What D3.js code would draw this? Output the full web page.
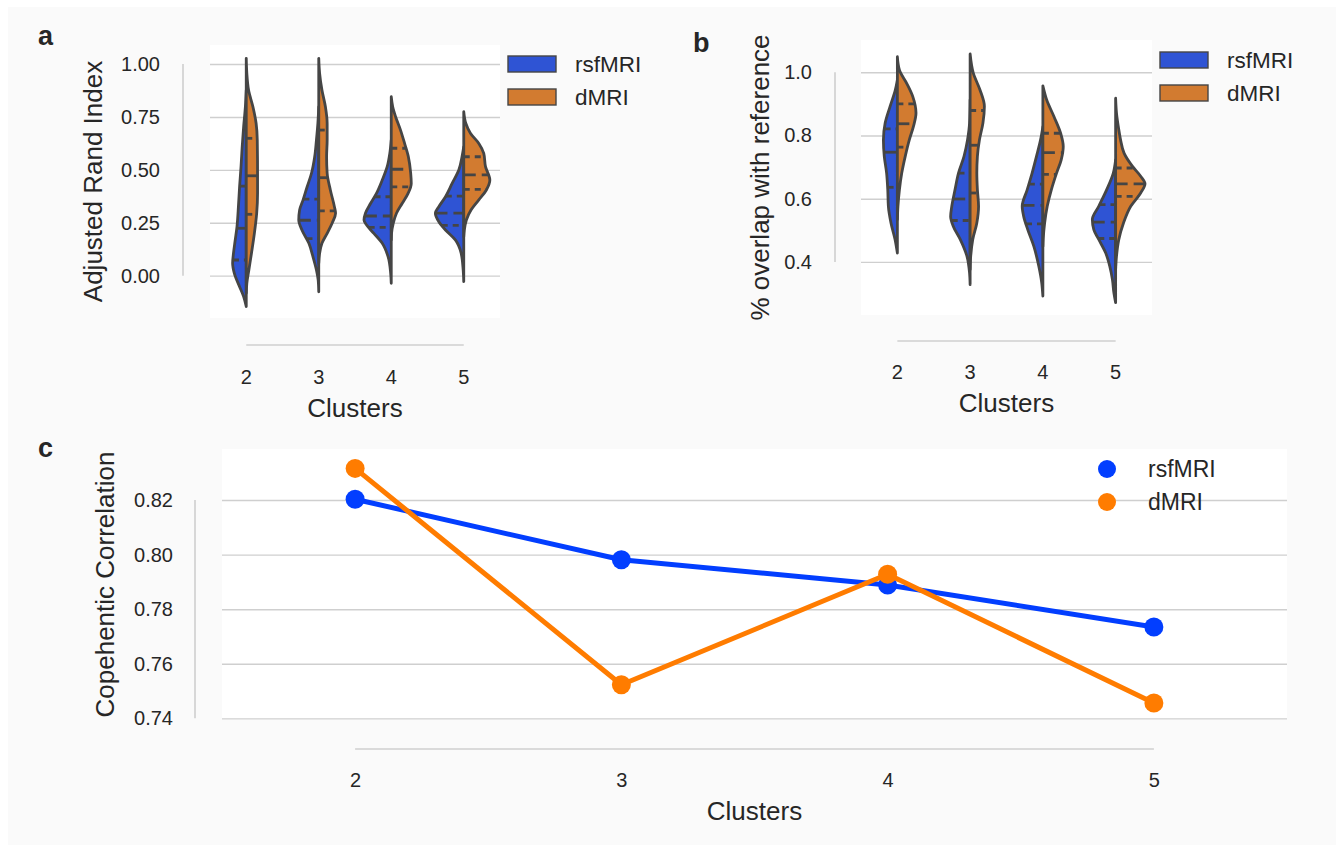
<!DOCTYPE html>
<html>
<head>
<meta charset="utf-8">
<script src="https://cdn.jsdelivr.net/npm/d3@7"></script>
<style>
  html, body { margin: 0; padding: 0; background: #ffffff; }
  svg { display: block; }
  text { font-family: "Liberation Sans", Arial, Helvetica, sans-serif; fill: #262626; }
</style>
</head>
<body>
<svg id="chart" width="1343" height="851"></svg>
<script>
// ---------------- DATA ----------------
const clusters = ["2", "3", "4", "5"];
const seriesNames = ["rsfMRI", "dMRI"];

// Panel a: Adjusted Rand Index — estimated density profiles [value, relative density]
const ariRsfDensity = [
  [[-0.146,0],[-0.099,0.09],[-0.052,0.23],[0.011,0.41],[0.059,0.47],[0.106,0.44],[0.169,0.38],[0.231,0.32],[0.326,0.27],[0.420,0.23],[0.515,0.18],[0.609,0.14],[0.704,0.09],[0.798,0.03],[0.877,0]],
  [[-0.076,0],[-0.020,0.02],[0.027,0.08],[0.090,0.20],[0.153,0.34],[0.216,0.58],[0.263,0.69],[0.310,0.66],[0.358,0.54],[0.420,0.40],[0.484,0.25],[0.562,0.14],[0.641,0.08],[0.720,0.03],[0.798,0]],
  [[-0.036,0],[0.011,0.02],[0.090,0.11],[0.153,0.31],[0.200,0.60],[0.239,0.85],[0.263,0.94],[0.295,0.89],[0.342,0.71],[0.389,0.51],[0.452,0.31],[0.515,0.14],[0.578,0.05],[0.641,0]],
  [[-0.028,0],[0.027,0.02],[0.106,0.09],[0.169,0.29],[0.216,0.63],[0.255,0.86],[0.295,0.98],[0.326,0.86],[0.373,0.63],[0.436,0.40],[0.499,0.17],[0.562,0.06],[0.609,0]]
];
const ariDmriDensity = [
  [[-0.083,0],[-0.036,0.02],[0.027,0.09],[0.106,0.18],[0.200,0.28],[0.295,0.36],[0.389,0.39],[0.484,0.39],[0.641,0.38],[0.720,0.34],[0.798,0.23],[0.877,0.08],[0.956,0.02],[1.027,0]],
  [[0.059,0],[0.106,0.03],[0.153,0.11],[0.200,0.29],[0.248,0.46],[0.295,0.58],[0.326,0.54],[0.405,0.40],[0.484,0.29],[0.562,0.27],[0.641,0.29],[0.720,0.29],[0.798,0.23],[0.877,0.11],[0.956,0.03],[1.027,0]],
  [[0.169,0],[0.200,0.01],[0.248,0.07],[0.295,0.18],[0.342,0.38],[0.389,0.58],[0.436,0.69],[0.484,0.67],[0.562,0.59],[0.625,0.46],[0.688,0.32],[0.751,0.15],[0.798,0.05],[0.846,0]],
  [[0.184,0],[0.216,0.02],[0.263,0.09],[0.310,0.25],[0.358,0.52],[0.405,0.78],[0.452,0.90],[0.515,0.75],[0.578,0.69],[0.625,0.52],[0.673,0.23],[0.720,0.07],[0.775,0]]
];
// [q1, median, q3]
const ariRsfQuartiles  = [[0.074,0.224,0.423],[0.175,0.262,0.362],[0.228,0.282,0.373],[0.238,0.296,0.376]];
const ariDmriQuartiles = [[0.290,0.472,0.649],[0.306,0.463,0.688],[0.420,0.503,0.602],[0.408,0.476,0.562]];

// Panel b: % overlap with reference
const overlapRsfDensity = [
  [[0.428,0],[0.471,0.08],[0.523,0.22],[0.576,0.31],[0.628,0.33],[0.681,0.37],[0.734,0.45],[0.786,0.48],[0.839,0.42],[0.892,0.25],[0.944,0.07],[0.976,0]],
  [[0.328,0],[0.365,0.02],[0.418,0.11],[0.471,0.34],[0.513,0.58],[0.544,0.67],[0.576,0.63],[0.628,0.52],[0.681,0.40],[0.734,0.21],[0.786,0.09],[0.839,0.02],[0.913,0]],
  [[0.292,0],[0.334,0.04],[0.386,0.14],[0.449,0.31],[0.502,0.52],[0.544,0.66],[0.576,0.71],[0.628,0.54],[0.681,0.37],[0.734,0.22],[0.786,0.08],[0.828,0]],
  [[0.271,0],[0.302,0.06],[0.344,0.11],[0.386,0.20],[0.428,0.34],[0.471,0.58],[0.502,0.75],[0.534,0.80],[0.576,0.58],[0.628,0.31],[0.681,0.08],[0.723,0]]
];
const overlapDmriDensity = [
  [[0.534,0],[0.576,0.02],[0.628,0.07],[0.681,0.15],[0.734,0.27],[0.786,0.41],[0.828,0.55],[0.871,0.64],[0.923,0.53],[0.965,0.32],[1.007,0.07],[1.049,0]],
  [[0.376,0],[0.418,0.02],[0.471,0.09],[0.523,0.23],[0.576,0.29],[0.628,0.25],[0.681,0.23],[0.734,0.25],[0.786,0.32],[0.839,0.44],[0.892,0.49],[0.944,0.34],[0.997,0.11],[1.058,0]],
  [[0.449,0],[0.471,0.01],[0.523,0.06],[0.576,0.15],[0.628,0.29],[0.681,0.47],[0.723,0.63],[0.765,0.70],[0.807,0.61],[0.860,0.38],[0.913,0.13],[0.957,0]],
  [[0.376,0],[0.418,0.03],[0.471,0.11],[0.523,0.27],[0.576,0.52],[0.618,0.86],[0.647,1.01],[0.671,0.86],[0.702,0.58],[0.744,0.29],[0.786,0.17],[0.818,0.11],[0.871,0.03],[0.918,0]]
];
const overlapRsfQuartiles  = [[0.636,0.747,0.821],[0.531,0.599,0.681],[0.520,0.579,0.646],[0.474,0.526,0.581]];
const overlapDmriQuartiles = [[0.763,0.837,0.900],[0.618,0.769,0.879],[0.677,0.746,0.807],[0.607,0.647,0.697]];

// Panel c: Copehentic Correlation
const cophRsf  = [0.8203, 0.7981, 0.7889, 0.7735];
const cophDmri = [0.8316, 0.7523, 0.7928, 0.7456];

const ariTicks = [0.00, 0.25, 0.50, 0.75, 1.00];
const overlapTicks = [0.4, 0.6, 0.8, 1.0];
const cophTicks = [0.74, 0.76, 0.78, 0.80, 0.82];

// ---------------- STYLE ----------------
const violinColors = ["#2f54d4", "#d27b30"];
const pointColors = ["#023eff", "#ff7c00"];
const edgeColor = "#454545";
const gridColor = "#cfcfcf";
const fontTick = 20, fontLabel = 26, fontLegend = 22.5;
const lw = 2.8;

const svg = d3.select("#chart");
svg.append("rect").attr("x", 8).attr("y", 7).attr("width", 1328).attr("height", 838).attr("fill", "#fafafa");

function densityAt(profile, v) {
  for (let i = 0; i < profile.length - 1; i++) {
    const a = profile[i], b = profile[i + 1];
    if (v >= a[0] && v <= b[0]) {
      const t = (v - a[0]) / (b[0] - a[0]);
      return a[1] + t * (b[1] - a[1]);
    }
  }
  return 0;
}

function violinPanel(opt) {
  const { left, right, top, bottom, yDomain, ticks, fmt, rsfD, dmriD, rsfQ, dmriQ,
          ySpineX, xSpineY, yTickX, xTickY, yLabel, yLabelX, xLabelY } = opt;
  const g = svg.append("g");
  g.append("rect").attr("x", left).attr("y", top).attr("width", right - left).attr("height", bottom - top).attr("fill", "#ffffff");
  const x = d3.scaleBand().domain(clusters).range([left, right]).padding(0);
  const y = d3.scaleLinear().domain(yDomain).range([bottom, top]);
  const w = d3.scaleLinear().domain([0, 1]).range([0, x.bandwidth() * 0.4]);

  // grid
  const grid = g.append("g").attr("transform", `translate(${left},0)`)
    .call(d3.axisLeft(y).tickValues(ticks).tickSize(-(right - left)).tickFormat(""));
  grid.select(".domain").remove();
  grid.selectAll("line").attr("stroke", gridColor).attr("stroke-width", 1.4);

  // y tick labels
  const yAx = g.append("g").attr("transform", `translate(${yTickX},0)`)
    .call(d3.axisLeft(y).tickValues(ticks).tickSize(0).tickPadding(0).tickFormat(d3.format(fmt)));
  yAx.select(".domain").remove();
  yAx.selectAll("text").attr("font-size", fontTick).attr("fill", "#262626").attr("font-family", "Liberation Sans, Arial, sans-serif");
  // trimmed spines
  g.append("line").attr("x1", ySpineX).attr("x2", ySpineX).attr("y1", y(ticks[0])).attr("y2", y(ticks[ticks.length - 1]))
    .attr("stroke", gridColor).attr("stroke-width", 1.6);
  const cx = c => x(c) + x.bandwidth() / 2;
  g.append("line").attr("y1", xSpineY).attr("y2", xSpineY).attr("x1", cx(clusters[0])).attr("x2", cx(clusters[clusters.length - 1]))
    .attr("stroke", gridColor).attr("stroke-width", 1.6);

  // x tick labels
  const xAx = g.append("g").attr("transform", `translate(0,${xTickY})`)
    .call(d3.axisBottom(x).tickSize(0).tickPadding(0));
  xAx.select(".domain").remove();
  xAx.selectAll("text").attr("font-size", fontTick).attr("fill", "#262626").attr("dy", 0)
    .attr("font-family", "Liberation Sans, Arial, sans-serif");

  // axis titles
  g.append("text").attr("x", (left + right) / 2).attr("y", xLabelY).attr("text-anchor", "middle")
    .attr("font-size", fontLabel).text("Clusters");
  g.append("text").attr("transform", `translate(${yLabelX},${(top + bottom) / 2}) rotate(-90)`)
    .attr("text-anchor", "middle").attr("font-size", fontLabel).text(yLabel);

  // violins
  const sets = [[rsfD, rsfQ, -1, 0], [dmriD, dmriQ, 1, 1]];
  sets.forEach(([dens, quarts, side, ci]) => {
    clusters.forEach((c, i) => {
      const center = cx(c);
      const area = d3.area().curve(d3.curveMonotoneY)
        .y(d => y(d[0])).x0(center).x1(d => center + side * w(d[1]));
      g.append("path").attr("d", area(dens[i]))
        .attr("fill", violinColors[ci]).attr("stroke", edgeColor).attr("stroke-width", lw)
        .attr("stroke-linejoin", "round");
    });
  });
  sets.forEach(([dens, quarts, side, ci]) => {
    clusters.forEach((c, i) => {
      const center = cx(c);
      quarts[i].forEach((q, k) => {
        const half = w(densityAt(dens[i], q));
        const x1 = side < 0 ? center - half : center;
        const x2 = side < 0 ? center : center + half;
        g.append("line").attr("x1", x1).attr("x2", x2).attr("y1", y(q)).attr("y2", y(q))
          .attr("stroke", edgeColor).attr("stroke-width", lw)
          .attr("stroke-dasharray", k === 1 ? "12,6" : "6,5");
      });
    });
  });
}

violinPanel({
  left: 210, right: 500, top: 45, bottom: 318, yDomain: [-0.2, 1.09], ticks: ariTicks, fmt: ".2f",
  rsfD: ariRsfDensity, dmriD: ariDmriDensity, rsfQ: ariRsfQuartiles, dmriQ: ariDmriQuartiles,
  ySpineX: 183, xSpineY: 345, yTickX: 160, xTickY: 384, yLabel: "Adjusted Rand Index", yLabelX: 102, xLabelY: 417
});
violinPanel({
  left: 861, right: 1152, top: 40, bottom: 315, yDomain: [0.232, 1.102], ticks: overlapTicks, fmt: ".1f",
  rsfD: overlapRsfDensity, dmriD: overlapDmriDensity, rsfQ: overlapRsfQuartiles, dmriQ: overlapDmriQuartiles,
  ySpineX: 835, xSpineY: 341, yTickX: 812, xTickY: 379, yLabel: "% overlap with reference", yLabelX: 769, xLabelY: 412
});

// violin legends
function boxLegend(x0, y0, dy, textX) {
  seriesNames.forEach((s, i) => {
    svg.append("rect").attr("x", x0).attr("y", y0 + i * dy).attr("width", 48).attr("height", 16)
      .attr("fill", violinColors[i]).attr("stroke", edgeColor).attr("stroke-width", 1.4);
    svg.append("text").attr("x", textX).attr("y", y0 + i * dy + 8).attr("dominant-baseline", "central")
      .attr("font-size", fontLegend).text(s);
  });
}
boxLegend(508, 56, 33, 575);
boxLegend(1160, 52, 33, 1227);

// ---------------- Panel c ----------------
(function () {
  const left = 222, right = 1287, top = 449, bottom = 720;
  const g = svg.append("g");
  g.append("rect").attr("x", left).attr("y", top).attr("width", right - left).attr("height", bottom - top).attr("fill", "#ffffff");
  const x = d3.scalePoint().domain(clusters).range([left, right]).padding(0.5);
  const y = d3.scaleLinear().domain([0.7394, 0.8387]).range([bottom, top]);

  const grid = g.append("g").attr("transform", `translate(${left},0)`)
    .call(d3.axisLeft(y).tickValues(cophTicks).tickSize(-(right - left)).tickFormat(""));
  grid.select(".domain").remove();
  grid.selectAll("line").attr("stroke", gridColor).attr("stroke-width", 1.4);

  const yAx = g.append("g").attr("transform", "translate(173,0)")
    .call(d3.axisLeft(y).tickValues(cophTicks).tickSize(0).tickPadding(0).tickFormat(d3.format(".2f")));
  yAx.select(".domain").remove();
  yAx.selectAll("text").attr("font-size", fontTick).attr("fill", "#262626").attr("font-family", "Liberation Sans, Arial, sans-serif");

  g.append("line").attr("x1", 195).attr("x2", 195).attr("y1", y(cophTicks[0])).attr("y2", y(cophTicks[cophTicks.length - 1]))
    .attr("stroke", gridColor).attr("stroke-width", 1.6);
  g.append("line").attr("y1", 749).attr("y2", 749).attr("x1", x(clusters[0])).attr("x2", x(clusters[clusters.length - 1]))
    .attr("stroke", gridColor).attr("stroke-width", 1.6);

  const xAx = g.append("g").attr("transform", "translate(0,787)")
    .call(d3.axisBottom(x).tickSize(0).tickPadding(0));
  xAx.select(".domain").remove();
  xAx.selectAll("text").attr("font-size", fontTick).attr("fill", "#262626").attr("dy", 0)
    .attr("font-family", "Liberation Sans, Arial, sans-serif");

  g.append("text").attr("x", (left + right) / 2).attr("y", 820).attr("text-anchor", "middle")
    .attr("font-size", fontLabel).text("Clusters");
  g.append("text").attr("transform", `translate(114,${(top + bottom) / 2}) rotate(-90)`)
    .attr("text-anchor", "middle").attr("font-size", fontLabel).text("Copehentic Correlation");

  const line = d3.line().x((d, i) => x(clusters[i])).y(d => y(d));
  [cophRsf, cophDmri].forEach((vals, si) => {
    g.append("path").attr("d", line(vals)).attr("fill", "none").attr("stroke", pointColors[si])
      .attr("stroke-width", 5).attr("stroke-linejoin", "round");
    g.selectAll(null).data(vals).enter().append("circle")
      .attr("cx", (d, i) => x(clusters[i])).attr("cy", d => y(d)).attr("r", 9.5).attr("fill", pointColors[si]);
  });

  seriesNames.forEach((s, i) => {
    g.append("circle").attr("cx", 1107).attr("cy", 469 + i * 33).attr("r", 9).attr("fill", pointColors[i]);
    g.append("text").attr("x", 1148).attr("y", 469 + i * 33).attr("dominant-baseline", "central")
      .attr("font-size", 23).text(s);
  });
})();

// panel letters
svg.append("text").attr("x", 38).attr("y", 45).attr("font-size", 27).attr("font-weight", "bold").attr("fill", "#000").text("a");
svg.append("text").attr("x", 693).attr("y", 52).attr("font-size", 27).attr("font-weight", "bold").attr("fill", "#000").text("b");
svg.append("text").attr("x", 38).attr("y", 457).attr("font-size", 27).attr("font-weight", "bold").attr("fill", "#000").text("c");
</script>
</body>
</html>
